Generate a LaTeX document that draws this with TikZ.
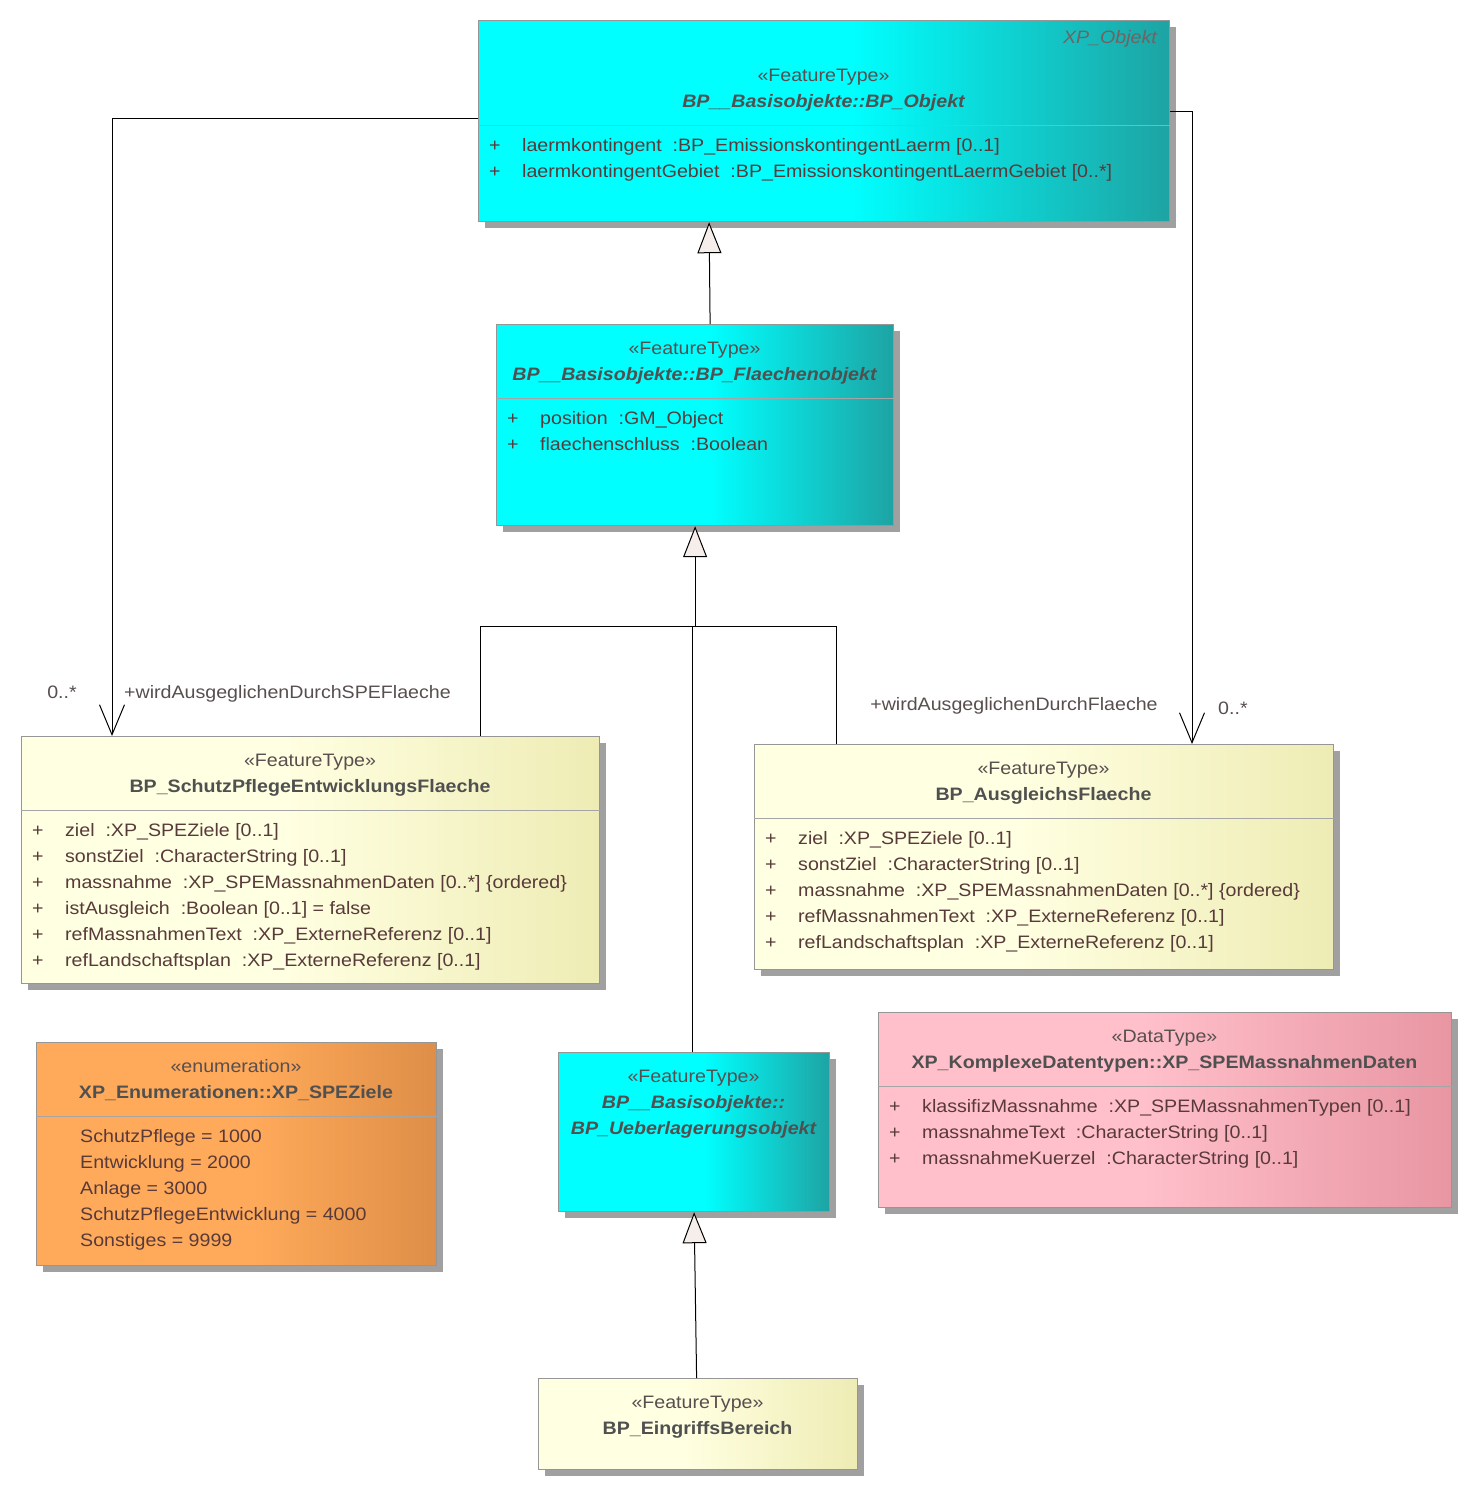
\documentclass[tikz,border=0pt]{standalone}
\usepackage{fontspec}
\setmainfont{Liberation Sans}[FakeStretch=1.09]
\usepackage{xcolor}
\usepackage{tikz}
\usetikzlibrary{positioning,arrows.meta,shadows}

\definecolor{cyanL}{RGB}{0,255,255}
\definecolor{cyanR}{RGB}{30,163,163}
\definecolor{yelL}{RGB}{255,255,225}
\definecolor{yelR}{RGB}{238,236,180}
\definecolor{oraL}{RGB}{255,170,90}
\definecolor{oraR}{RGB}{222,142,72}
\definecolor{pinkL}{RGB}{255,192,203}
\definecolor{pinkR}{RGB}{232,150,162}
\definecolor{boxgray}{RGB}{150,150,150}
\definecolor{shadowgray}{RGB}{160,160,160}
\definecolor{divgray}{RGB}{165,165,165}
\definecolor{trifill}{RGB}{245,238,234}
\definecolor{attrcol}{RGB}{88,58,58}
\definecolor{namegray}{RGB}{80,80,80}
\definecolor{stereogray}{RGB}{88,78,78}
\definecolor{pkggray}{RGB}{110,100,100}

\pgfdeclarehorizontalshading{cyanshade}{100bp}{color(0bp)=(cyanL); color(25bp)=(cyanL); color(52bp)=(cyanL); color(75bp)=(cyanR); color(100bp)=(cyanR)}
\pgfdeclarehorizontalshading{yelshade}{100bp}{color(0bp)=(yelL); color(25bp)=(yelL); color(48bp)=(yelL); color(75bp)=(yelR); color(100bp)=(yelR)}
\pgfdeclarehorizontalshading{orashade}{100bp}{color(0bp)=(oraL); color(25bp)=(oraL); color(52bp)=(oraL); color(75bp)=(oraR); color(100bp)=(oraR)}
\pgfdeclarehorizontalshading{pinkshade}{100bp}{color(0bp)=(pinkL); color(25bp)=(pinkL); color(48bp)=(pinkL); color(75bp)=(pinkR); color(100bp)=(pinkR)}

\newcommand{\umlsize}{\fontsize{18}{22}\selectfont}
\newcommand{\umlplus}{\makebox[33pt][l]{+}}

\begin{document}
\begin{tikzpicture}[x=1pt, y=-1pt,
    cls/.style={draw=boxgray, line width=1.2pt, anchor=north west, inner sep=0pt, shade,
        drop shadow={shadow xshift=6pt, shadow yshift=-6pt, fill=shadowgray, opacity=1}},
    divline/.style={draw=divgray, line width=1pt},
    stereo/.style={anchor=base, inner sep=0pt, text=stereogray, font=\umlsize},
    cname/.style={anchor=base, inner sep=0pt, text=namegray, font=\umlsize\bfseries},
    aname/.style={anchor=base, inner sep=0pt, text=namegray, font=\umlsize\bfseries\itshape},
    attr/.style={anchor=base west, inner sep=0pt, text=attrcol, font=\umlsize},
    lbl/.style={inner sep=0pt, text=stereogray, font=\umlsize},
    conn/.style={draw=black, line width=1pt},
    gen/.style={conn, -{Triangle[length=31pt, width=24pt, fill=trifill]}},
    assoc/.style={conn, -{Straight Barb[length=30pt, width=25pt]}}]
    \useasboundingbox (0,0) rectangle (1472,1490);

    % class boxes
    \node[cls, shading=cyanshade, minimum width=691pt, minimum height=201pt] (obj) at (478,20) {};
    \node[cls, shading=cyanshade, minimum width=397pt, minimum height=201pt] (flae) at (496,324) {};
    \node[cls, shading=yelshade, minimum width=578pt, minimum height=247pt] (spe) at (21,736) {};
    \node[cls, shading=yelshade, minimum width=579pt, minimum height=225pt] (ausg) at (754,744) {};
    \node[cls, shading=orashade, minimum width=400pt, minimum height=223pt] (ziele) at (36,1042) {};
    \node[cls, shading=cyanshade, minimum width=271pt, minimum height=159pt] (ueb) at (558,1052) {};
    \node[cls, shading=pinkshade, minimum width=573pt, minimum height=195pt] (daten) at (878,1012) {};
    \node[cls, shading=yelshade, minimum width=319pt, minimum height=91pt] (eing) at (538,1378) {};

    % compartments
    \draw[divline] (obj.west |- 0,126) -- (obj.east |- 0,126);
    \draw[divline] (flae.west |- 0,398) -- (flae.east |- 0,398);
    \draw[divline] (spe.west |- 0,810) -- (spe.east |- 0,810);
    \draw[divline] (ausg.west |- 0,818) -- (ausg.east |- 0,818);
    \draw[divline] (ziele.west |- 0,1116) -- (ziele.east |- 0,1116);
    \draw[divline] (daten.west |- 0,1086) -- (daten.east |- 0,1086);

    % BP_Objekt
    \node[lbl, anchor=base east, text=pkggray, font=\umlsize\itshape] (objpkg) at (1157,44) {XP\_Objekt};
    \node[stereo] (objst) at (823.5,82) {«FeatureType»};
    \node[aname] (objname) at (823.5,108) {BP\_\_Basisobjekte::BP\_Objekt};
    \node[attr] (obja1) at (489,152) {\umlplus laermkontingent~~:BP\_EmissionskontingentLaerm [0..1]};
    \node[attr] (obja2) at (489,178) {\umlplus laermkontingentGebiet~~:BP\_EmissionskontingentLaermGebiet [0..*]};

    % BP_Flaechenobjekt
    \node[stereo] (flaest) at (694.5,354) {«FeatureType»};
    \node[aname] (flaename) at (694.5,380) {BP\_\_Basisobjekte::BP\_Flaechenobjekt};
    \node[attr] (flaea1) at (507,424) {\umlplus position~~:GM\_Object};
    \node[attr] (flaea2) at (507,450) {\umlplus flaechenschluss~~:Boolean};

    % BP_SchutzPflegeEntwicklungsFlaeche
    \node[stereo] (spest) at (310,766) {«FeatureType»};
    \node[cname] (spename) at (310,792) {BP\_SchutzPflegeEntwicklungsFlaeche};
    \node[attr] (spea1) at (32,836) {\umlplus ziel~~:XP\_SPEZiele [0..1]};
    \node[attr] (spea2) at (32,862) {\umlplus sonstZiel~~:CharacterString [0..1]};
    \node[attr] (spea3) at (32,888) {\umlplus massnahme~~:XP\_SPEMassnahmenDaten [0..*] \{ordered\}};
    \node[attr] (spea4) at (32,914) {\umlplus istAusgleich~~:Boolean [0..1] = false};
    \node[attr] (spea5) at (32,940) {\umlplus refMassnahmenText~~:XP\_ExterneReferenz [0..1]};
    \node[attr] (spea6) at (32,966) {\umlplus refLandschaftsplan~~:XP\_ExterneReferenz [0..1]};

    % BP_AusgleichsFlaeche
    \node[stereo] (ausgst) at (1043.5,774) {«FeatureType»};
    \node[cname] (ausgname) at (1043.5,800) {BP\_AusgleichsFlaeche};
    \node[attr] (ausga1) at (765,844) {\umlplus ziel~~:XP\_SPEZiele [0..1]};
    \node[attr] (ausga2) at (765,870) {\umlplus sonstZiel~~:CharacterString [0..1]};
    \node[attr] (ausga3) at (765,896) {\umlplus massnahme~~:XP\_SPEMassnahmenDaten [0..*] \{ordered\}};
    \node[attr] (ausga4) at (765,922) {\umlplus refMassnahmenText~~:XP\_ExterneReferenz [0..1]};
    \node[attr] (ausga5) at (765,948) {\umlplus refLandschaftsplan~~:XP\_ExterneReferenz [0..1]};

    % XP_SPEZiele
    \node[stereo] (zielest) at (236,1072) {«enumeration»};
    \node[cname] (zielename) at (236,1098) {XP\_Enumerationen::XP\_SPEZiele};
    \node[attr] (zielel1) at (80,1142) {SchutzPflege = 1000};
    \node[attr] (zielel2) at (80,1168) {Entwicklung = 2000};
    \node[attr] (zielel3) at (80,1194) {Anlage = 3000};
    \node[attr] (zielel4) at (80,1220) {SchutzPflegeEntwicklung = 4000};
    \node[attr] (zielel5) at (80,1246) {Sonstiges = 9999};

    % BP_Ueberlagerungsobjekt
    \node[stereo] (uebst) at (693.5,1082) {«FeatureType»};
    \node[aname] (ubname1) at (693.5,1108) {BP\_\_Basisobjekte::};
    \node[aname] (ubname2) at (693.5,1134) {BP\_Ueberlagerungsobjekt};

    % XP_SPEMassnahmenDaten
    \node[stereo] (datenst) at (1164.5,1042) {«DataType»};
    \node[cname] (datenname) at (1164.5,1068) {XP\_KomplexeDatentypen::XP\_SPEMassnahmenDaten};
    \node[attr] (datena1) at (889,1112) {\umlplus klassifizMassnahme~~:XP\_SPEMassnahmenTypen [0..1]};
    \node[attr] (datena2) at (889,1138) {\umlplus massnahmeText~~:CharacterString [0..1]};
    \node[attr] (datena3) at (889,1164) {\umlplus massnahmeKuerzel~~:CharacterString [0..1]};

    % BP_EingriffsBereich
    \node[stereo] (eingst) at (697.5,1408) {«FeatureType»};
    \node[cname] (eingname) at (697.5,1434) {BP\_EingriffsBereich};

    % generalisations
    \coordinate (jn) at (flae.south |- 0,626);
    \draw[gen] ([xshift=15pt]flae.north) -- ([xshift=-115pt]obj.south);
    \draw[gen] (jn) -- (flae.south);
    \draw[conn] ([xshift=459pt]spe.north west) |- (jn);
    \draw[conn] ([xshift=82pt]ausg.north west) |- (jn);
    \draw[conn] ([xshift=-1.5pt]ueb.north) -- ([xshift=-1.5pt]ueb.north |- jn);
    \draw[gen] ([xshift=-1.5pt]eing.north) -- (ueb.south);

    % associations
    \draw[assoc] ([yshift=2.5pt]obj.west) -| ([xshift=91pt]spe.north west);
    \draw[assoc] ([yshift=10pt]obj.east) -| ([xshift=438pt]ausg.north west);
    \node[lbl, anchor=base] (spemult) at (62,698) {0..*};
    \node[lbl, anchor=base west] (sperole) at (124,698) {+wirdAusgeglichenDurchSPEFlaeche};
    \node[lbl, anchor=base] (ausgrole) at (1014,710) {+wirdAusgeglichenDurchFlaeche};
    \node[lbl, anchor=base west] (ausgmult) at (1218,714) {0..*};
\end{tikzpicture}
\end{document}
